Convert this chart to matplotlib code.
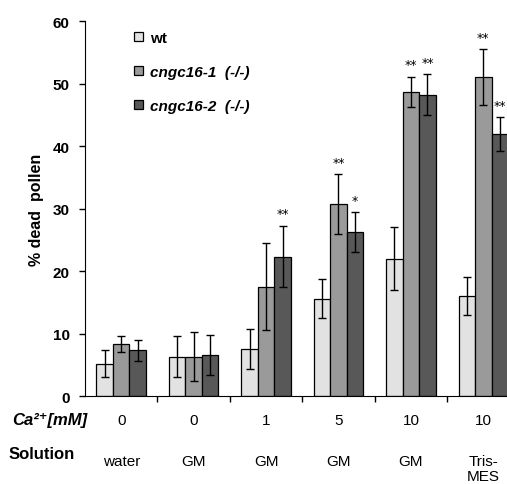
import numpy as np
import matplotlib.pyplot as plt

plt.rcParams['font.family'] = ['Liberation Sans', 'DejaVu Sans']

# data
ca_labels = ['0', '0', '1', '5', '10', '10']
solution_labels = ['water', 'GM', 'GM', 'GM', 'GM', 'Tris-\nMES']
series_names = ['wt', 'cngc16-1  (-/-)', 'cngc16-2  (-/-)']
wt = [5.2, 6.3, 7.6, 15.6, 22.0, 16.0]
wt_err = [2.2, 3.3, 3.2, 3.1, 5.0, 3.1]
c161 = [8.3, 6.3, 17.5, 30.7, 48.7, 51.0]
c161_err = [1.3, 3.9, 7.0, 4.8, 2.4, 4.5]
c162 = [7.3, 6.6, 22.3, 26.2, 48.2, 41.9]
c162_err = [1.7, 3.2, 4.9, 3.2, 3.3, 2.7]
wt_sig = ['', '', '', '', '', '']
c161_sig = ['', '', '', '**', '**', '**']
c162_sig = ['', '', '**', '*', '**', '**']

colors = ['#e2e2e2', '#9a9a9a', '#585858']

fig = plt.figure(figsize=(5.07, 4.85), dpi=100)
ax = fig.add_axes([0.1677, 0.1814, 0.857, 0.7732])

x = np.arange(len(ca_labels))
w = 0.228
series = [(wt, wt_err, wt_sig), (c161, c161_err, c161_sig), (c162, c162_err, c162_sig)]
for i, (vals, errs, sig) in enumerate(series):
    xs = x + (i - 1) * w
    ax.bar(xs, vals, w, color=colors[i], edgecolor='black', linewidth=0.9,
           label=series_names[i], zorder=2)
    ax.errorbar(xs, vals, yerr=errs, fmt='none', ecolor='black', elinewidth=1,
                capsize=3, capthick=1, zorder=3)
    for xi, v, e, s in zip(xs, vals, errs, sig):
        if s:
            ax.text(xi, v + e + 0.9, s, ha='center', va='bottom', fontsize=9,
                    family='DejaVu Sans')

ax.set_xlim(-0.5, 5.5)
ax.set_ylim(0, 60)
ax.set_yticks(range(0, 61, 10))
ax.set_yticklabels([str(v) for v in range(0, 61, 10)], fontweight='bold', fontsize=11)
ax.set_xticks(np.arange(0.5, 5.5, 1))
ax.set_xticklabels([])
ax.tick_params(axis='both', direction='out', length=4, width=1)
ax.tick_params(axis='y', pad=7)
ax.spines['top'].set_visible(False)
ax.spines['right'].set_visible(False)
ax.set_ylabel('% dead  pollen', fontweight='bold', fontsize=11.5, labelpad=6)

tr = ax.get_xaxis_transform()
for xi, c, s in zip(x, ca_labels, solution_labels):
    ax.text(xi, -0.064, c, transform=tr, ha='center', va='center', fontsize=11)
    ax.text(xi, -0.155, s, transform=tr, ha='center', va='top', fontsize=11,
            linespacing=1.05)

fig.text(12 / 507, 1 - 421 / 485, 'Ca\u00b2\u207a[mM]', ha='left', va='center',
         fontsize=12, fontweight='bold', fontstyle='italic')
fig.text(9 / 507, 1 - 455 / 485, 'Solution', ha='left', va='center', fontsize=12,
         fontweight='bold')

leg = ax.legend(loc='upper left', bbox_to_anchor=(0.08, 1.01), frameon=False,
                handlelength=0.6, handleheight=0.6, handletextpad=0.5,
                labelspacing=1.3, fontsize=11)
for i, t in enumerate(leg.get_texts()):
    t.set_fontweight('bold')
    if i > 0:
        t.set_fontstyle('italic')

fig.savefig('out.png', dpi=100)
